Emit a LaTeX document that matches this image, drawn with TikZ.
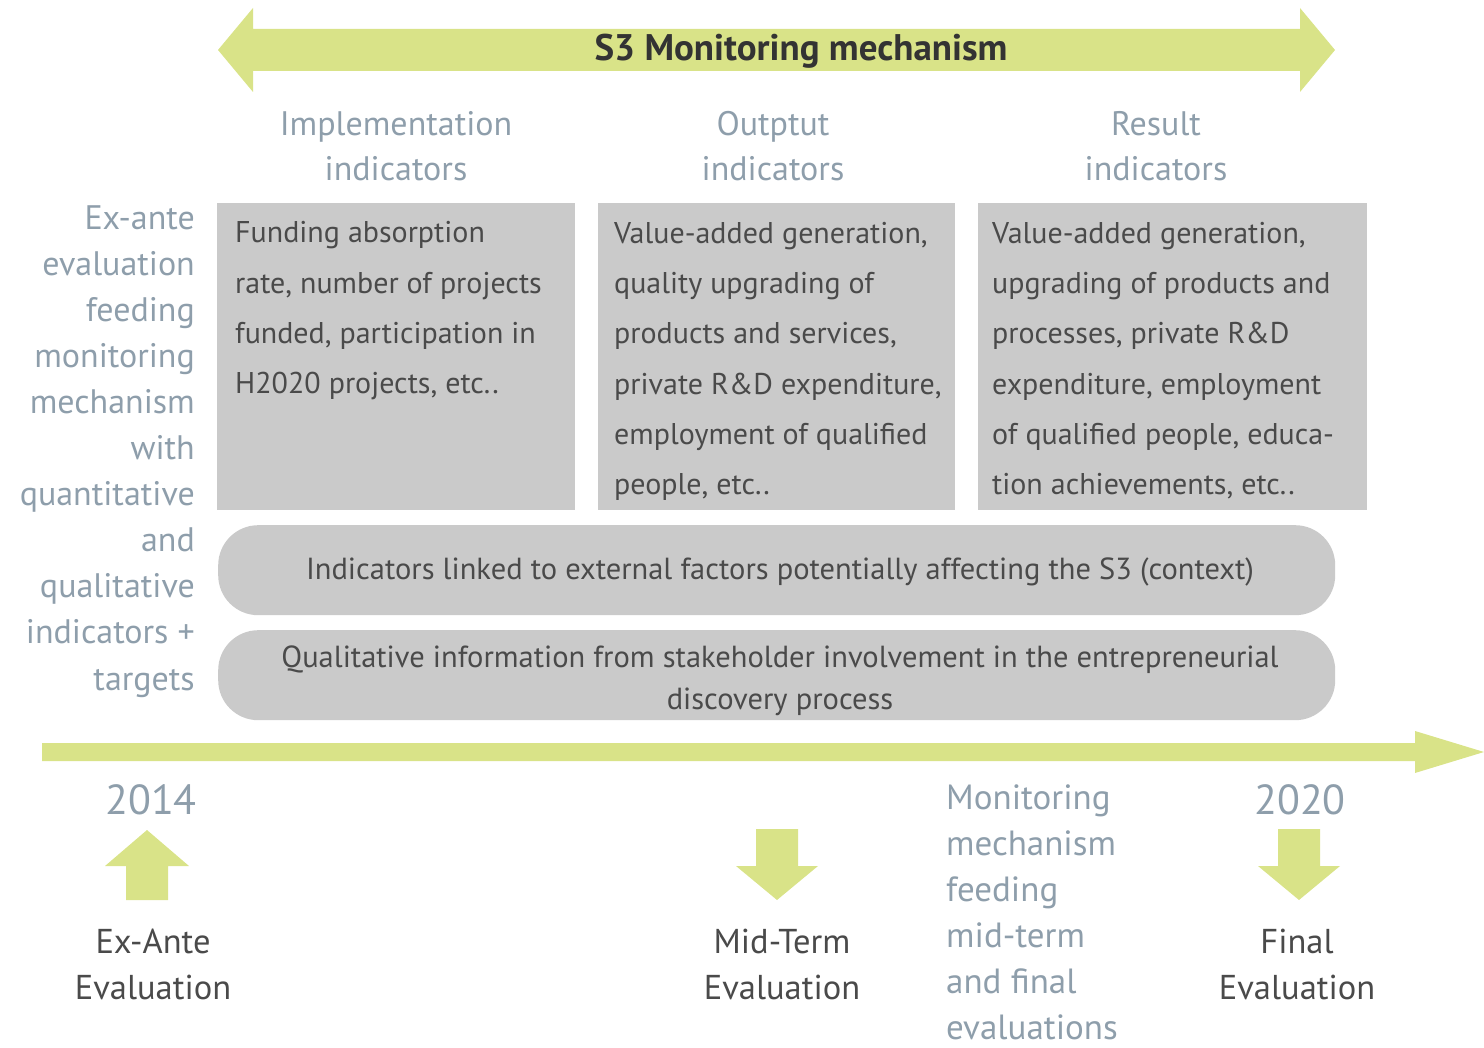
\documentclass[tikz,border=0pt]{standalone}
\usepackage{fontspec}
\setmainfont{PT Sans}
\definecolor{lime}{HTML}{D9E388}
\definecolor{boxgray}{HTML}{CACACA}
\definecolor{bluegray}{HTML}{8E9EAB}
\definecolor{darktext}{HTML}{4A4A4A}
\tikzset{
  graybox/.style={fill=boxgray, draw=none, anchor=north west, inner sep=0},
  graybar/.style={fill=boxgray, draw=none, anchor=north west, inner sep=0, rounded corners=40pt},
  boxtext/.style={anchor=base west, align=left, inner sep=0, text=darktext, font=\fontsize{30}{50.4}\selectfont},
  bartext/.style={anchor=base, align=center, inner sep=0, text=darktext, font=\fontsize{30.5}{42}\selectfont},
  headtext/.style={anchor=base, align=center, inner sep=0, text=bluegray, font=\fontsize{34}{45}\selectfont},
  sidetext/.style={inner sep=0, text=bluegray, font=\fontsize{34}{46.1}\selectfont},
  evaltext/.style={anchor=base, align=center, inner sep=0, text=darktext, font=\fontsize{34.5}{46}\selectfont},
  yeartext/.style={anchor=base, inner sep=0, text=bluegray, font=\fontsize{42}{46}\selectfont},
  uparr/.pic={\fill[lime] (-21,35) -- (-21,1) -- (-42,1) -- (0,-35) -- (42,1) -- (21,1) -- (21,35) -- cycle;},
  downarr/.pic={\fill[lime] (-21,-36) -- (21,-36) -- (21,1) -- (41,1) -- (0,35) -- (-41,1) -- (-21,1) -- cycle;}
}
\begin{document}
\begin{tikzpicture}[x=1pt,y=-1pt]
\useasboundingbox (0,0) rectangle (1484,1048);
% top double arrow
\fill[lime] (218,50) -- (253,8) -- (253,29) -- (1300,29) -- (1300,8) -- (1335,50) -- (1300,92) -- (1300,71) -- (253,71) -- (253,92) -- cycle;
\node[anchor=base, inner sep=0, text=black!80, font=\fontsize{37}{40}\selectfont\bfseries] (title) at (801,61) {S3 Monitoring mechanism};
% headers (base = last line)
\node[headtext] (h1) at (396,181) {Implementation\\indicators};
\node[headtext] (h2) at (773,181) {Outptut\\indicators};
\node[headtext] (h3) at (1156,181) {Result\\indicators};
% boxes
\node[graybox, minimum width=358, minimum height=307] (b1) at (217,203) {};
\node[graybox, minimum width=357, minimum height=307] (b2) at (598,203) {};
\node[graybox, minimum width=389, minimum height=307] (b3) at (978,203) {};
\node[boxtext] (t1) at (235,394) {Funding absorption\\rate, number of projects\\funded, participation in\\H2020 projects, etc..};
\node[boxtext] (t2) at (614,495) {Value-added generation,\\quality upgrading of\\products and services,\\private R\&D expenditure,\\employment of qualified\\people, etc..};
\node[boxtext] (t3) at (992,495) {Value-added generation,\\upgrading of products and\\processes, private R\&D\\expenditure, employment\\of qualified people, educa-\\tion achievements, etc..};
% bars
\node[graybar, minimum width=1117, minimum height=90] (bar1) at (218,525) {};
\node[graybar, minimum width=1117, minimum height=90] (bar2) at (218,630) {};
\node[bartext] (bt1) at (780,579) {Indicators linked to external factors potentially affecting the S3 (context)};
\node[bartext] (bt2) at (780,709) {Qualitative information from stakeholder involvement in the entrepreneurial\\discovery process};
% left column
\node[sidetext, anchor=base east, align=right] (side) at (195,690) {Ex-ante\\evaluation\\feeding\\monitoring\\mechanism\\with\\quantitative\\and\\qualitative\\indicators +\\targets};
% timeline
\fill[lime] (42,743) -- (1415,743) -- (1415,731) -- (1484,752) -- (1415,773) -- (1415,761) -- (42,761) -- cycle;
\node[yeartext] (y1) at (151,814) {2014};
\node[yeartext] (y2) at (1300,814) {2020};
\pic at (147,865) {uparr};
\pic at (777,865) {downarr};
\pic at (1299,865) {downarr};
\node[evaltext] (e1) at (153,999) {Ex-Ante\\Evaluation};
\node[evaltext] (e2) at (782,999) {Mid-Term\\Evaluation};
\node[evaltext] (e3) at (1297,999) {Final\\Evaluation};
\node[sidetext, anchor=base west, align=left, font=\fontsize{35}{46}\selectfont] (mon) at (946,1039) {Monitoring\\mechanism\\feeding\\mid-term\\and final\\evaluations};
\end{tikzpicture}
\end{document}
